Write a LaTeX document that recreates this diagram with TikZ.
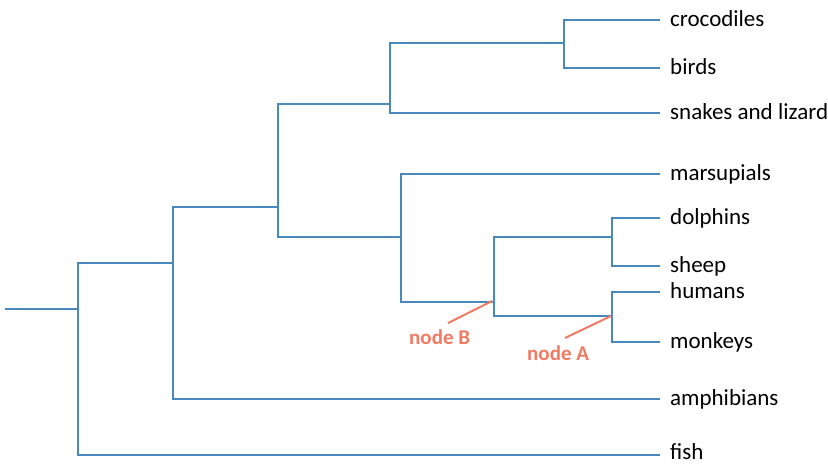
\documentclass[tikz,border=0pt]{standalone}
\usepackage{fontspec}
\setmainfont{Carlito}
\definecolor{treeblue}{HTML}{4A89BE}
\definecolor{salmon}{HTML}{F07A62}
\begin{document}
\begin{tikzpicture}[x=1pt,y=-1pt,
  branch/.style={draw=treeblue,line width=2pt},
  leaf/.style={anchor=base west,inner xsep=10pt,inner ysep=0pt,font=\fontsize{23}{26}\selectfont,text=black},
  marker/.style={anchor=base west,font=\bfseries\fontsize{21}{24}\selectfont,text=salmon,inner sep=0pt},
  pointer/.style={draw=salmon,line width=2pt}]
\useasboundingbox (0,0) rectangle (828,464);
% leaves
\node[leaf] (croc) at (660,26) {crocodiles};
\node[leaf] (birds) at (660,74) {birds};
\node[leaf] (snakes) at (660,119) {snakes and lizard};
\node[leaf] (marsup) at (660,180) {marsupials};
\node[leaf] (dolph) at (660,224) {dolphins};
\node[leaf] (sheep) at (660,272) {sheep};
\node[leaf] (humans) at (660,298) {humans};
\node[leaf] (monkeys) at (660,348) {monkeys};
\node[leaf] (amph) at (660,405) {amphibians};
\node[leaf] (fish) at (660,459.5) {fish};
% leaf line ends
\coordinate (eCroc) at (660,20);
\coordinate (eBirds) at (660,68);
\coordinate (eSnakes) at (660,113);
\coordinate (eMarsup) at (660,174);
\coordinate (eDolph) at (660,218);
\coordinate (eSheep) at (660,266);
\coordinate (eHumans) at (660,292);
\coordinate (eMonkeys) at (660,342);
\coordinate (eAmph) at (660,399);
\coordinate (eFish) at (660,455);
% internal nodes
\coordinate (n1) at (564,43);
\coordinate (n2) at (390,104);
\coordinate (n3) at (612,237);
\coordinate (nA) at (612,316);
\coordinate (nB) at (494,302);
\coordinate (n4) at (401,237);
\coordinate (n5) at (278,207);
\coordinate (n6) at (173,263);
\coordinate (n7) at (78,309);
\coordinate (stem) at (5,309);
% branches
\draw[branch] (eCroc) -| (n1) |- (eBirds);
\draw[branch] (n1) -| (n2) |- (eSnakes);
\draw[branch] (eDolph) -| (n3) |- (eSheep);
\draw[branch] (eHumans) -| (nA) |- (eMonkeys);
\draw[branch] (n3) -| (nB) |- (nA);
\draw[branch] (eMarsup) -| (n4) |- (nB);
\draw[branch] (n2) -| (n5) |- (n4);
\draw[branch] (n5) -| (n6) |- (eAmph);
\draw[branch] (n6) -| (n7) |- (eFish);
\draw[branch] (stem) -- (n7);
% markers
\node[marker] (labB) at (409,344) {node B};
\node[marker] (labA) at (527,360) {node A};
\coordinate (pB) at (448,323);
\coordinate (pA) at (565,338);
\draw[pointer] (pB) -- ([xshift=-2pt,yshift=1pt]nB);
\draw[pointer] (pA) -- ([xshift=-1pt]nA);
\end{tikzpicture}
\end{document}
